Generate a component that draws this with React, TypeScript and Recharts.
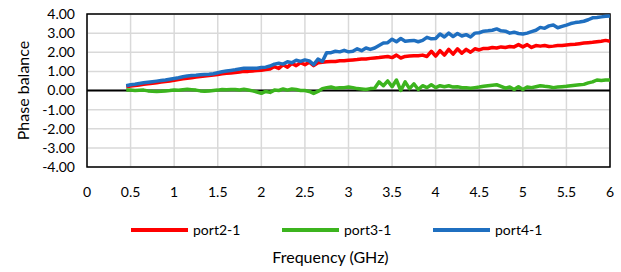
import { LineChart, Line, XAxis, YAxis, CartesianGrid, Legend, ReferenceLine, ReferenceArea } from 'recharts';

const freq = [
  0.45, 0.5, 0.55, 0.6, 0.65, 0.7, 0.75, 0.8, 0.85, 0.9,
  0.95, 1, 1.05, 1.1, 1.15, 1.2, 1.25, 1.3, 1.35, 1.4,
  1.45, 1.5, 1.55, 1.6, 1.65, 1.7, 1.75, 1.8, 1.85, 1.9,
  1.95, 2, 2.05, 2.1, 2.15, 2.2, 2.25, 2.3, 2.35, 2.4,
  2.45, 2.5, 2.55, 2.6, 2.65, 2.7, 2.75, 2.8, 2.85, 2.9,
  2.95, 3, 3.05, 3.1, 3.15, 3.2, 3.25, 3.3, 3.35, 3.4,
  3.45, 3.5, 3.55, 3.6, 3.65, 3.7, 3.75, 3.8, 3.85, 3.9,
  3.95, 4, 4.05, 4.1, 4.15, 4.2, 4.25, 4.3, 4.35, 4.4,
  4.45, 4.5, 4.55, 4.6, 4.65, 4.7, 4.75, 4.8, 4.85, 4.9,
  4.95, 5, 5.05, 5.1, 5.15, 5.2, 5.25, 5.3, 5.35, 5.4,
  5.45, 5.5, 5.55, 5.6, 5.65, 5.7, 5.75, 5.8, 5.85, 5.9,
  5.95, 6,
];

const port21 = [
  0.20, 0.23, 0.26, 0.29, 0.32, 0.35, 0.38, 0.41, 0.44, 0.47,
  0.50, 0.53, 0.57, 0.61, 0.64, 0.67, 0.70, 0.73, 0.76, 0.78,
  0.81, 0.84, 0.87, 0.90, 0.92, 0.94, 0.97, 1.00, 1.00, 1.02,
  1.05, 1.06, 1.10, 1.12, 1.25, 1.15, 1.35, 1.22, 1.42, 1.30,
  1.45, 1.35, 1.48, 1.30, 1.45, 1.48, 1.50, 1.52, 1.52, 1.55,
  1.55, 1.58, 1.60, 1.62, 1.65, 1.65, 1.68, 1.70, 1.72, 1.75,
  1.78, 1.72, 1.85, 1.70, 1.78, 1.80, 1.82, 1.82, 1.85, 1.78,
  2.05, 1.80, 2.08, 1.85, 2.15, 1.90, 2.18, 1.95, 2.15, 2.00,
  2.18, 2.12, 2.20, 2.20, 2.25, 2.22, 2.28, 2.25, 2.30, 2.28,
  2.40, 2.28, 2.40, 2.25, 2.35, 2.32, 2.35, 2.30, 2.32, 2.35,
  2.35, 2.38, 2.40, 2.42, 2.45, 2.48, 2.50, 2.52, 2.55, 2.58,
  2.62, 2.58,
];

const port31 = [
  0.02, 0.02, 0.00, 0.01, 0.02, -0.02, -0.04, -0.05, -0.04, -0.02,
  0.00, 0.03, 0.01, 0.04, 0.06, 0.04, 0.02, -0.02, -0.04, -0.02,
  0.00, 0.02, 0.05, 0.04, 0.05, 0.05, 0.03, 0.06, 0.03, -0.02,
  -0.08, -0.15, -0.05, -0.10, 0.02, 0.00, 0.08, 0.02, 0.08, 0.05,
  0.00, 0.00, -0.05, -0.15, -0.05, 0.10, 0.15, 0.18, 0.12, 0.15,
  0.15, 0.18, 0.15, 0.10, 0.08, 0.05, 0.10, 0.12, 0.45, 0.25,
  0.50, 0.20, 0.55, 0.00, 0.45, 0.10, 0.35, 0.05, 0.25, 0.15,
  0.30, 0.15, 0.25, 0.20, 0.25, 0.18, 0.20, 0.15, 0.15, 0.12,
  0.15, 0.18, 0.22, 0.25, 0.28, 0.30, 0.22, 0.12, 0.18, 0.05,
  0.20, 0.05, 0.18, 0.15, 0.20, 0.25, 0.22, 0.20, 0.15, 0.18,
  0.20, 0.22, 0.25, 0.28, 0.30, 0.32, 0.40, 0.45, 0.55, 0.52,
  0.55, 0.55,
];

const port41 = [
  0.25, 0.30, 0.33, 0.37, 0.40, 0.43, 0.46, 0.49, 0.52, 0.55,
  0.59, 0.63, 0.67, 0.72, 0.76, 0.79, 0.80, 0.82, 0.84, 0.85,
  0.88, 0.93, 0.98, 1.02, 1.05, 1.08, 1.12, 1.16, 1.16, 1.17,
  1.16, 1.20, 1.22, 1.28, 1.38, 1.42, 1.38, 1.50, 1.45, 1.58,
  1.52, 1.60, 1.55, 1.35, 1.65, 1.52, 1.98, 1.98, 2.05, 2.02,
  2.10, 2.02, 2.05, 2.18, 2.08, 2.22, 2.15, 2.22, 2.35, 2.48,
  2.50, 2.68, 2.55, 2.72, 2.58, 2.60, 2.62, 2.55, 2.62, 2.78,
  2.70, 2.72, 2.95, 2.80, 3.00, 2.82, 2.98, 2.85, 2.92, 2.80,
  3.00, 3.02, 3.10, 3.12, 3.15, 3.22, 3.12, 3.10, 3.00, 3.05,
  2.98, 2.95, 3.00, 3.08, 3.15, 3.30, 3.25, 3.38, 3.42, 3.28,
  3.35, 3.42, 3.50, 3.55, 3.58, 3.62, 3.70, 3.80, 3.82, 3.85,
  3.88, 3.90,
];

const xTicks = [0, 0.5, 1, 1.5, 2, 2.5, 3, 3.5, 4, 4.5, 5, 5.5, 6];
const yTicks = [-4, -3, -2, -1, 0, 1, 2, 3, 4];

const series = [
  { key: 'port21', name: 'port2-1', color: '#ff0000' },
  { key: 'port31', name: 'port3-1', color: '#3cb41e' },
  { key: 'port41', name: 'port4-1', color: '#1f6fc0' },
];

const data = freq.map((f, i) => ({
  freq: f,
  port21: port21[i],
  port31: port31[i],
  port41: port41[i],
}));

const font = 'Lato, "Open Sans", sans-serif';

const renderLegend = () => (
  <div style={{ display: 'flex', fontFamily: font, fontSize: 14, color: '#000' }}>
    {series.map((s) => (
      <div key={s.key} style={{ display: 'flex', alignItems: 'center', width: 151 }}>
        <div style={{ width: 57, height: 4, background: s.color, marginRight: 5 }} />
        <span>{s.name}</span>
      </div>
    ))}
  </div>
);

export default function App() {
  return (
    <div style={{ position: 'absolute', left: 0, top: 0, width: 621, height: 272, background: '#fff' }}>
      <LineChart width={621} height={272} data={data} margin={{ top: 14, right: 11, bottom: 0, left: 0 }}>
        <CartesianGrid stroke="#d9d9d9" strokeWidth={1.5} />
        <XAxis
          type="number"
          dataKey="freq"
          domain={[0, 6]}
          ticks={xTicks}
          interval={0}
          height={105}
          axisLine={false}
          tickLine={false}
          tickSize={0}
          tickMargin={20}
          tick={{ fill: '#000', fontSize: 14, fontFamily: font }}
          label={{ value: 'Frequency (GHz)', position: 'insideBottom', offset: 9, dx: -18, fill: '#000', fontSize: 16, fontFamily: font }}
        />
        <YAxis
          type="number"
          domain={[-4, 4]}
          ticks={yTicks}
          interval={0}
          width={87}
          axisLine={false}
          tickLine={false}
          tickSize={0}
          tickMargin={12}
          tickFormatter={(v: number) => v.toFixed(2)}
          tick={{ fill: '#000', fontSize: 14, fontFamily: font }}
          label={{ value: 'Phase balance', angle: -90, position: 'center', dx: -20, fill: '#000', fontSize: 16, fontFamily: font }}
        />
        <ReferenceLine y={0} stroke="#000" strokeWidth={2} />
        <ReferenceArea x1={0} x2={6} y1={-4} y2={4} fill="none" stroke="#000" strokeWidth={1.5} fillOpacity={0} />
        <Legend
          layout="horizontal"
          verticalAlign="middle"
          align="center"
          content={renderLegend}
          wrapperStyle={{ left: 131, top: 221, width: 460, height: 18 }}
        />
        {series.map((s) => (
          <Line
            key={s.key}
            type="linear"
            dataKey={s.key}
            name={s.name}
            stroke={s.color}
            strokeWidth={3.5}
            strokeLinejoin="round"
            dot={false}
            isAnimationActive={false}
          />
        ))}
      </LineChart>
    </div>
  );
}
